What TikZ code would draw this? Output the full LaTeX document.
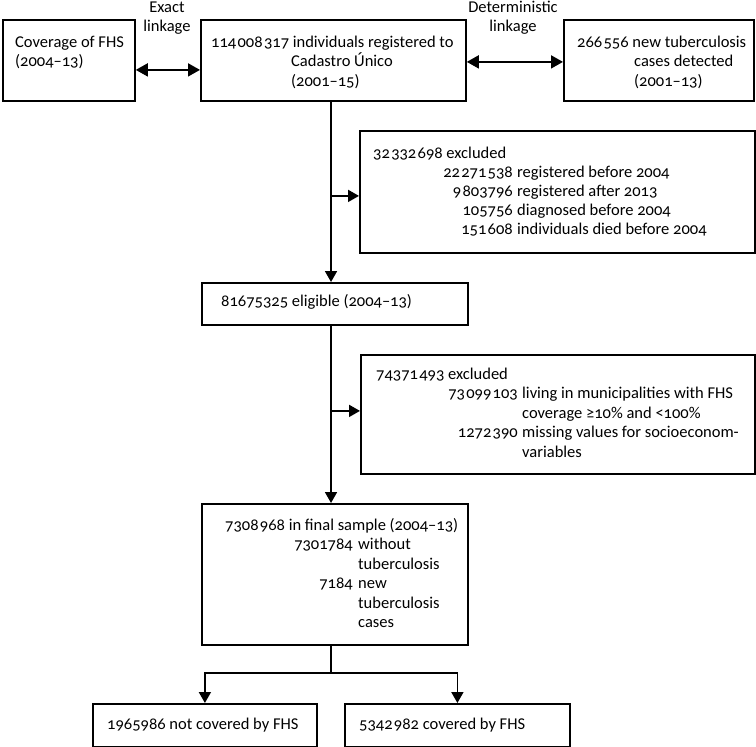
\documentclass[tikz,border=0pt]{standalone}
\usepackage{fontspec}
\setmainfont{Carlito}[Numbers=OldStyle]
\usetikzlibrary{arrows.meta}
\newcommand\tsp{\hspace{0.08em}}
\begin{document}
\begin{tikzpicture}[x=1pt,y=-1pt,
  box/.style={draw, line width=1.8pt, inner sep=0pt, anchor=north west},
  txt/.style={inner sep=0pt, font=\fontsize{16.5}{20}\selectfont},
  tl/.style={txt, anchor=base west},
  tr/.style={txt, anchor=base east},
  tc/.style={txt, anchor=base},
  link/.style={line width=1.8pt},
  arr/.style={line width=1.8pt, -{Triangle[length=11pt,width=12pt]}},
  darr/.style={line width=1.8pt, {Triangle[length=12pt,width=13pt]}-{Triangle[length=12pt,width=13pt]}}]
\useasboundingbox (0,0) rectangle (756,747);

% boxes
\node[box, minimum width=132pt, minimum height=81pt] (A) at (2,19) {};
\node[box, minimum width=265pt, minimum height=81pt] (B) at (200,19) {};
\node[box, minimum width=190pt, minimum height=81pt] (C) at (563,19) {};
\node[box, minimum width=395pt, minimum height=122pt] (E1) at (359,130) {};
\node[box, minimum width=266pt, minimum height=42pt] (D) at (201,282) {};
\node[box, minimum width=394pt, minimum height=119pt] (E2) at (360,354) {};
\node[box, minimum width=266pt, minimum height=141pt] (F) at (201,503) {};
\node[box, minimum width=224pt, minimum height=43pt] (G1) at (92,703) {};
\node[box, minimum width=225pt, minimum height=43pt] (G2) at (344,703) {};

% linkage labels
\node[tc] (lx1) at (167,12) {Exact};
\node[tc] (lx2) at (167,31) {linkage};
\node[tc] (ld1) at (513,12) {Deterministic};
\node[tc] (ld2) at (513,31) {linkage};

% top boxes text
\node[tl] (a1) at (15,47) {Coverage of FHS};
\node[tl] (a2) at (15,66.5) {(2004–13)};
\node[tl] (b1) at (211,47) {114\tsp008\tsp317 individuals registered to};
\node[tl] (b2) at (291,66.5) {Cadastro Único};
\node[tl] (b3) at (291,86) {(2001–15)};
\node[tl] (c1) at (577,47) {266\tsp556 new tuberculosis};
\node[tl] (c2) at (634,66.5) {cases detected};
\node[tl] (c3) at (634,86) {(2001–13)};

% first exclusion
\node[tl] (e0) at (373,158) {32\tsp332\tsp698 excluded};
\node[tr] (e1n) at (513,177) {22\tsp271\tsp538};
\node[tl] (e1t) at (517,177) {registered before 2004};
\node[tr] (e2n) at (513,196) {9\tsp803796};
\node[tl] (e2t) at (517,196) {registered after 2013};
\node[tr] (e3n) at (513,215) {105756};
\node[tl] (e3t) at (517,215) {diagnosed before 2004};
\node[tr] (e4n) at (513,234) {151\tsp608};
\node[tl] (e4t) at (517,234) {individuals died before 2004};

% eligible
\node[tl] (d1) at (221,306) {81675325 eligible (2004–13)};

% second exclusion
\node[tl] (f0) at (376,379) {74371\tsp493 excluded};
\node[tr] (f1n) at (518,398) {73\tsp099\tsp103};
\node[tl] (f1t) at (522,398) {living in municipalities with FHS};
\node[tl] (f1u) at (522,418) {coverage ≥10\% and <100\%};
\node[tr] (f2n) at (518,437) {1272\tsp390};
\node[tl] (f2t) at (522,437) {missing values for socioeconom-};
\node[tl] (f2u) at (522,457) {variables};

% final sample
\node[tl] (g0) at (225,530) {7308\tsp968 in final sample (2004–13)};
\node[tr] (g1n) at (353,549.5) {7301784};
\node[tl] (g1t) at (358,549.5) {without};
\node[tl] (g1u) at (358,569) {tuberculosis};
\node[tr] (g2n) at (353,588.5) {7184};
\node[tl] (g2t) at (358,588.5) {new};
\node[tl] (g2u) at (358,608) {tuberculosis};
\node[tl] (g2v) at (358,627.5) {cases};

% bottom
\node[tl] (h1) at (107,729) {1965986 not covered by FHS};
\node[tl] (h2) at (359,729) {5342\tsp982 covered by FHS};

% connectors
\coordinate (spine) at (331,0);
\coordinate (split) at (331,673);
\draw[darr] ([yshift=-9.5pt]A.east) -- ([yshift=-9.5pt]A.east -| B.west);
\draw[darr] ([yshift=-1.5pt]B.east) -- ([yshift=-1.5pt]B.east -| C.west);
\draw[arr] (B.south -| spine) -- (D.north -| spine);
\draw[arr] ([yshift=-4pt]E1.west -| spine) -- ([yshift=-4pt]E1.west);
\draw[arr] (D.south -| spine) -- (F.north -| spine);
\draw[arr] ([yshift=3.5pt]E2.west -| spine) -- ([yshift=3.5pt]E2.west);
\draw[link] (F.south -| split) -- (split);
\draw[arr] (split) -| (G1.north);
\draw[arr] (split) -| (G2.north);
\end{tikzpicture}
\end{document}
